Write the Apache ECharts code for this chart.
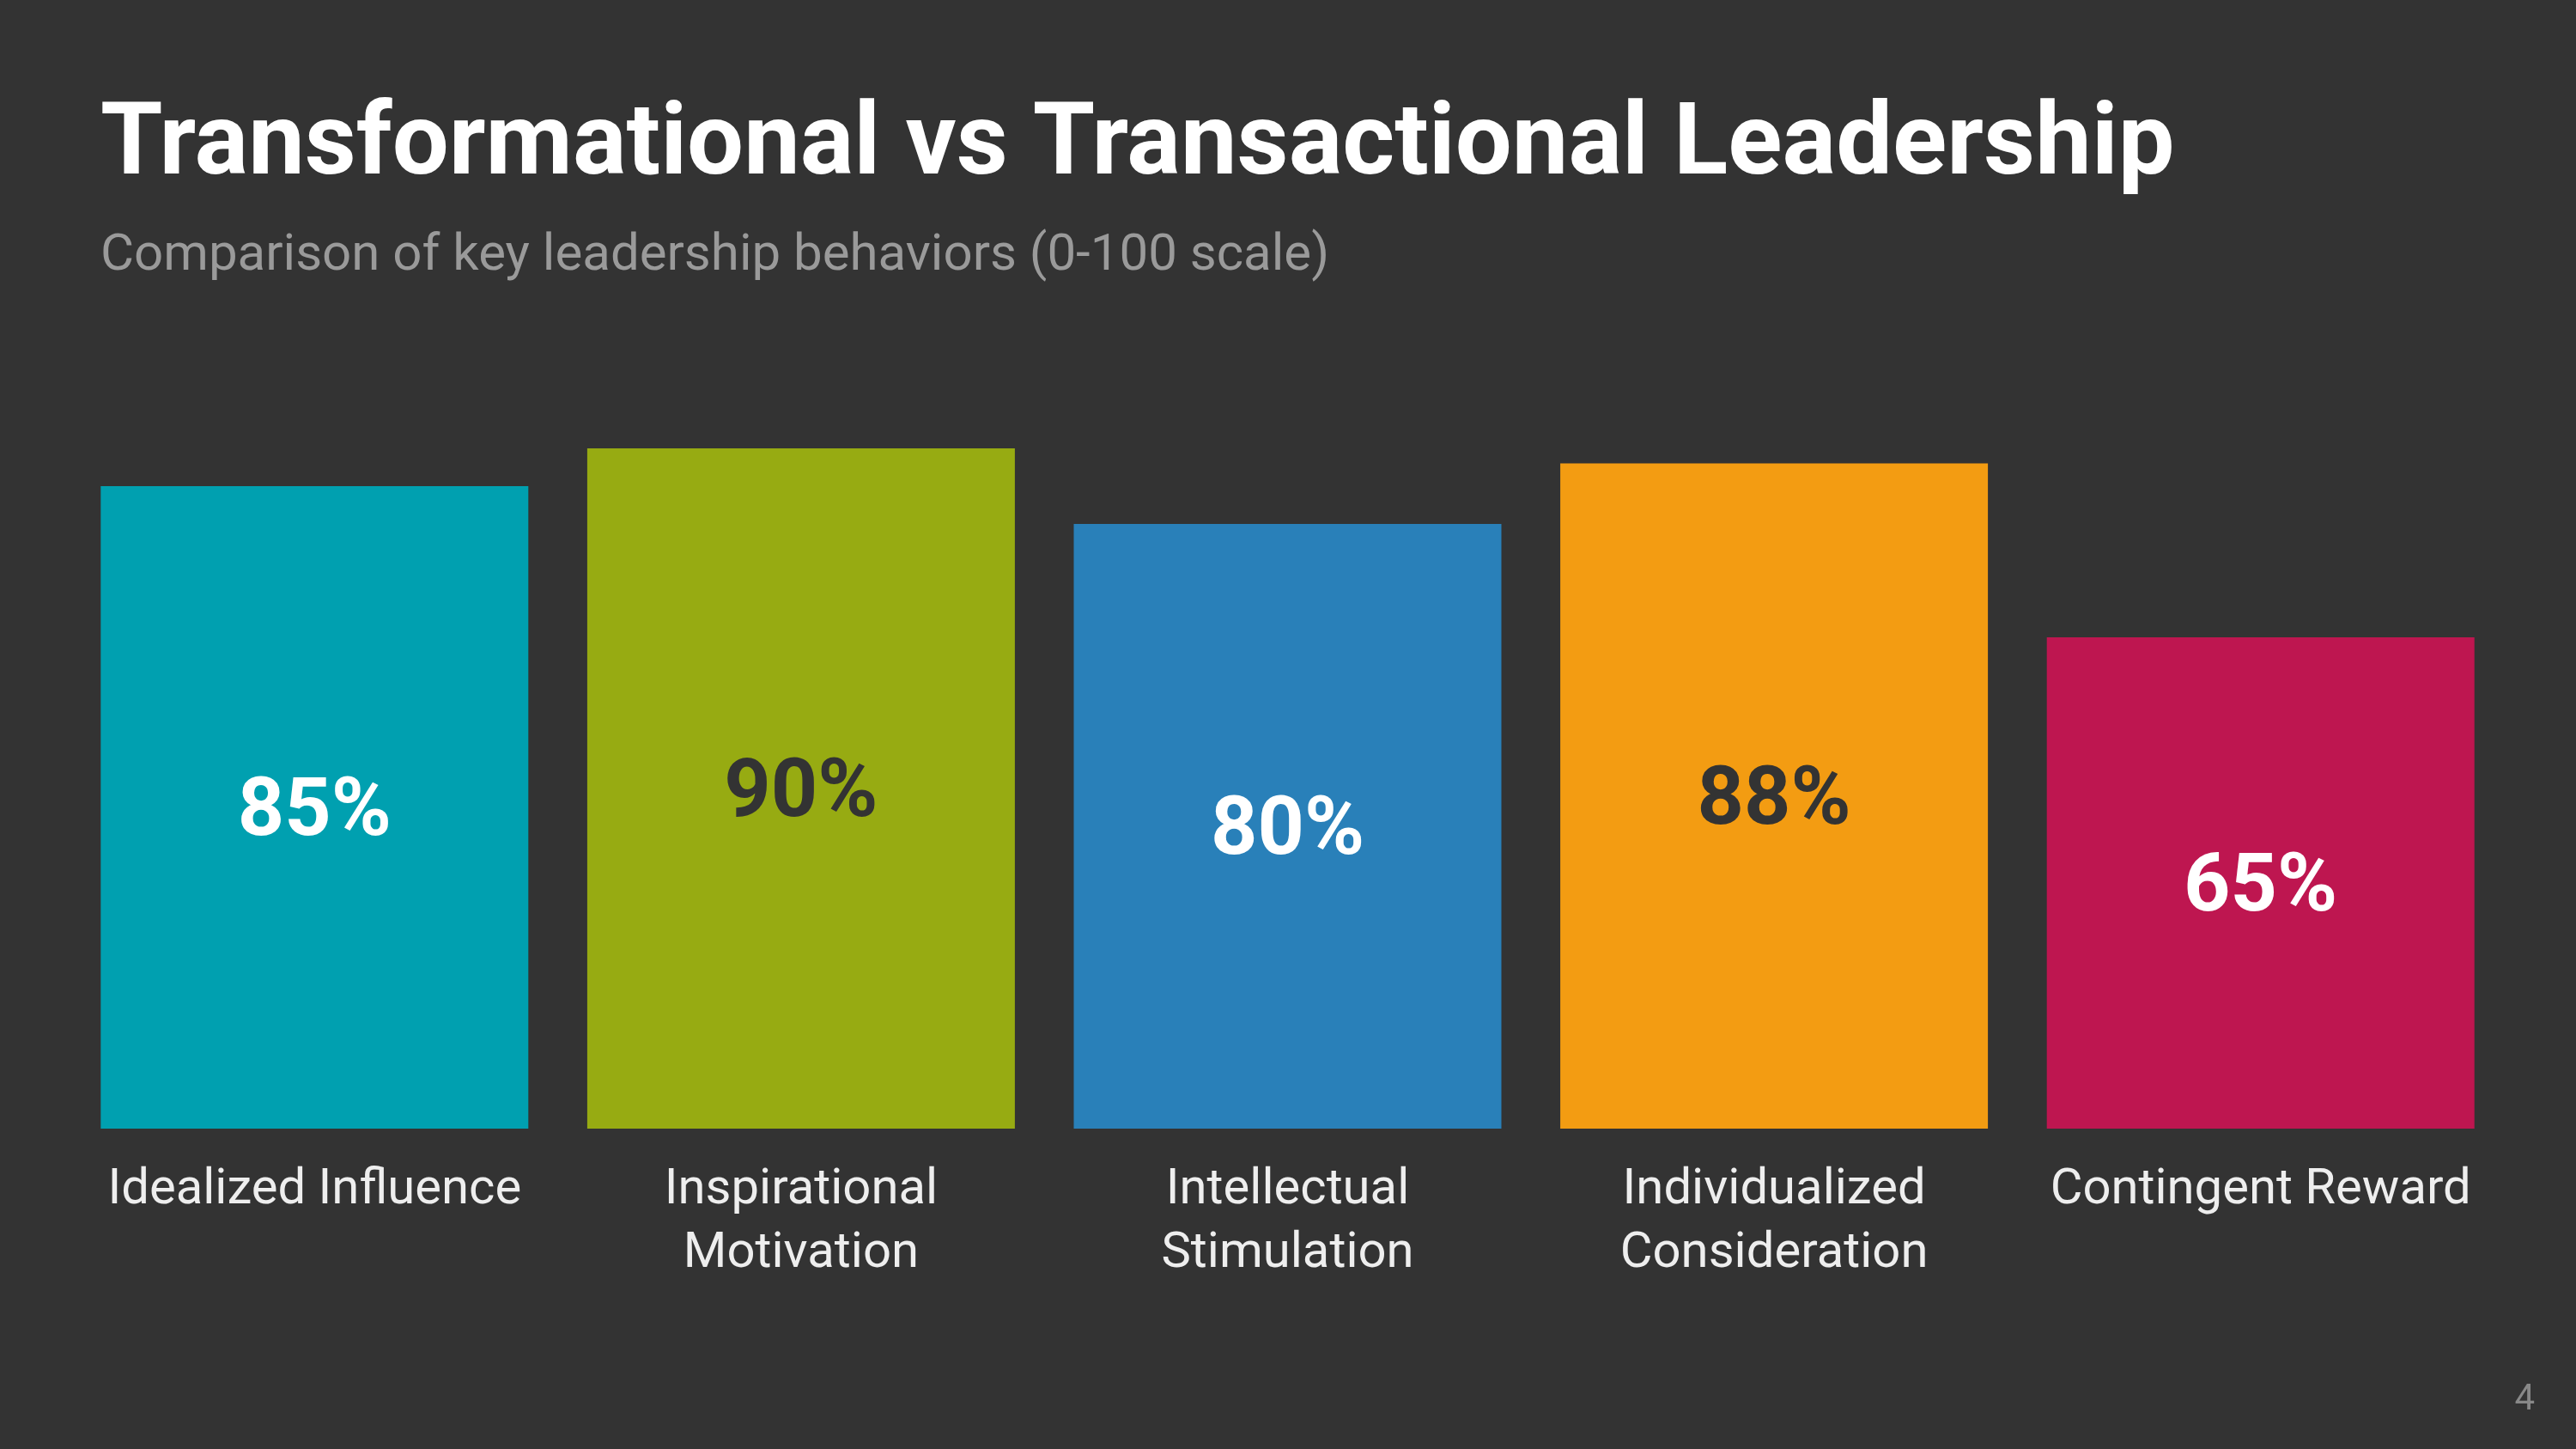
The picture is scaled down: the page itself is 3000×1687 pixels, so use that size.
<!DOCTYPE html>
<html>
<head>
<meta charset="utf-8">
<style>
  html, body { margin: 0; padding: 0; background: #333333; }
  #chart { width: 3000px; height: 1687px; }
</style>
<script src="https://cdn.jsdelivr.net/npm/echarts@6/dist/echarts.min.js"></script>
</head>
<body>
<div id="chart"></div>
<script>
const categories = ['Idealized Influence', 'Inspirational\nMotivation', 'Intellectual\nStimulation', 'Individualized\nConsideration', 'Contingent Reward'];
const values = [85, 90, 80, 88, 65];
const titleText = 'Transformational vs Transactional Leadership';
const subtitleText = 'Comparison of key leadership behaviors (0-100 scale)';
const pageNumber = '4';

const barColors = ['#00a0b0', '#97ab12', '#2980b9', '#f39c12', '#be1650'];
const labelColors = ['#ffffff', '#333333', '#ffffff', '#333333', '#ffffff'];

const chart = echarts.init(document.getElementById('chart'), null, { renderer: 'canvas' });
chart.setOption({
  backgroundColor: '#333333',
  animation: false,
  textStyle: { fontFamily: 'Roboto' },
  grid: { left: 83, right: 84, top: 434, bottom: 373, containLabel: false },
  xAxis: {
    type: 'category',
    data: categories,
    axisLine: { show: false },
    axisTick: { show: false },
    axisLabel: {
      color: '#eeeeee',
      fontFamily: 'Roboto',
      fontSize: 58,
      lineHeight: 74,
      margin: 35,
      interval: 0
    }
  },
  yAxis: {
    type: 'value', min: 0, max: 100, interval: 20,
    show: false,
    splitLine: { show: false }
  },
  series: [{
    type: 'bar',
    barWidth: 498,
    data: values.map((v, i) => ({
      value: v,
      itemStyle: { color: barColors[i] },
      label: { color: labelColors[i] }
    })),
    label: {
      show: true,
      position: 'inside',
      offset: [0, 8],
      formatter: p => p.value + '%',
      fontFamily: 'Roboto',
      fontWeight: 'bold',
      fontSize: 95
    }
  }],
  graphic: [
    {
      type: 'text', left: 117, top: 173 - 59,
      style: { text: titleText, fill: '#ffffff', font: 'bold 117px Roboto' }
    },
    {
      type: 'text', left: 117, top: 299 - 30,
      style: { text: subtitleText, fill: '#9a9a9a', font: '60px Roboto' }
    },
    {
      type: 'text', right: 48, top: 1630 - 21,
      style: { text: pageNumber, fill: '#888888', font: '42px Roboto' }
    }
  ]
});
</script>
</body>
</html>
